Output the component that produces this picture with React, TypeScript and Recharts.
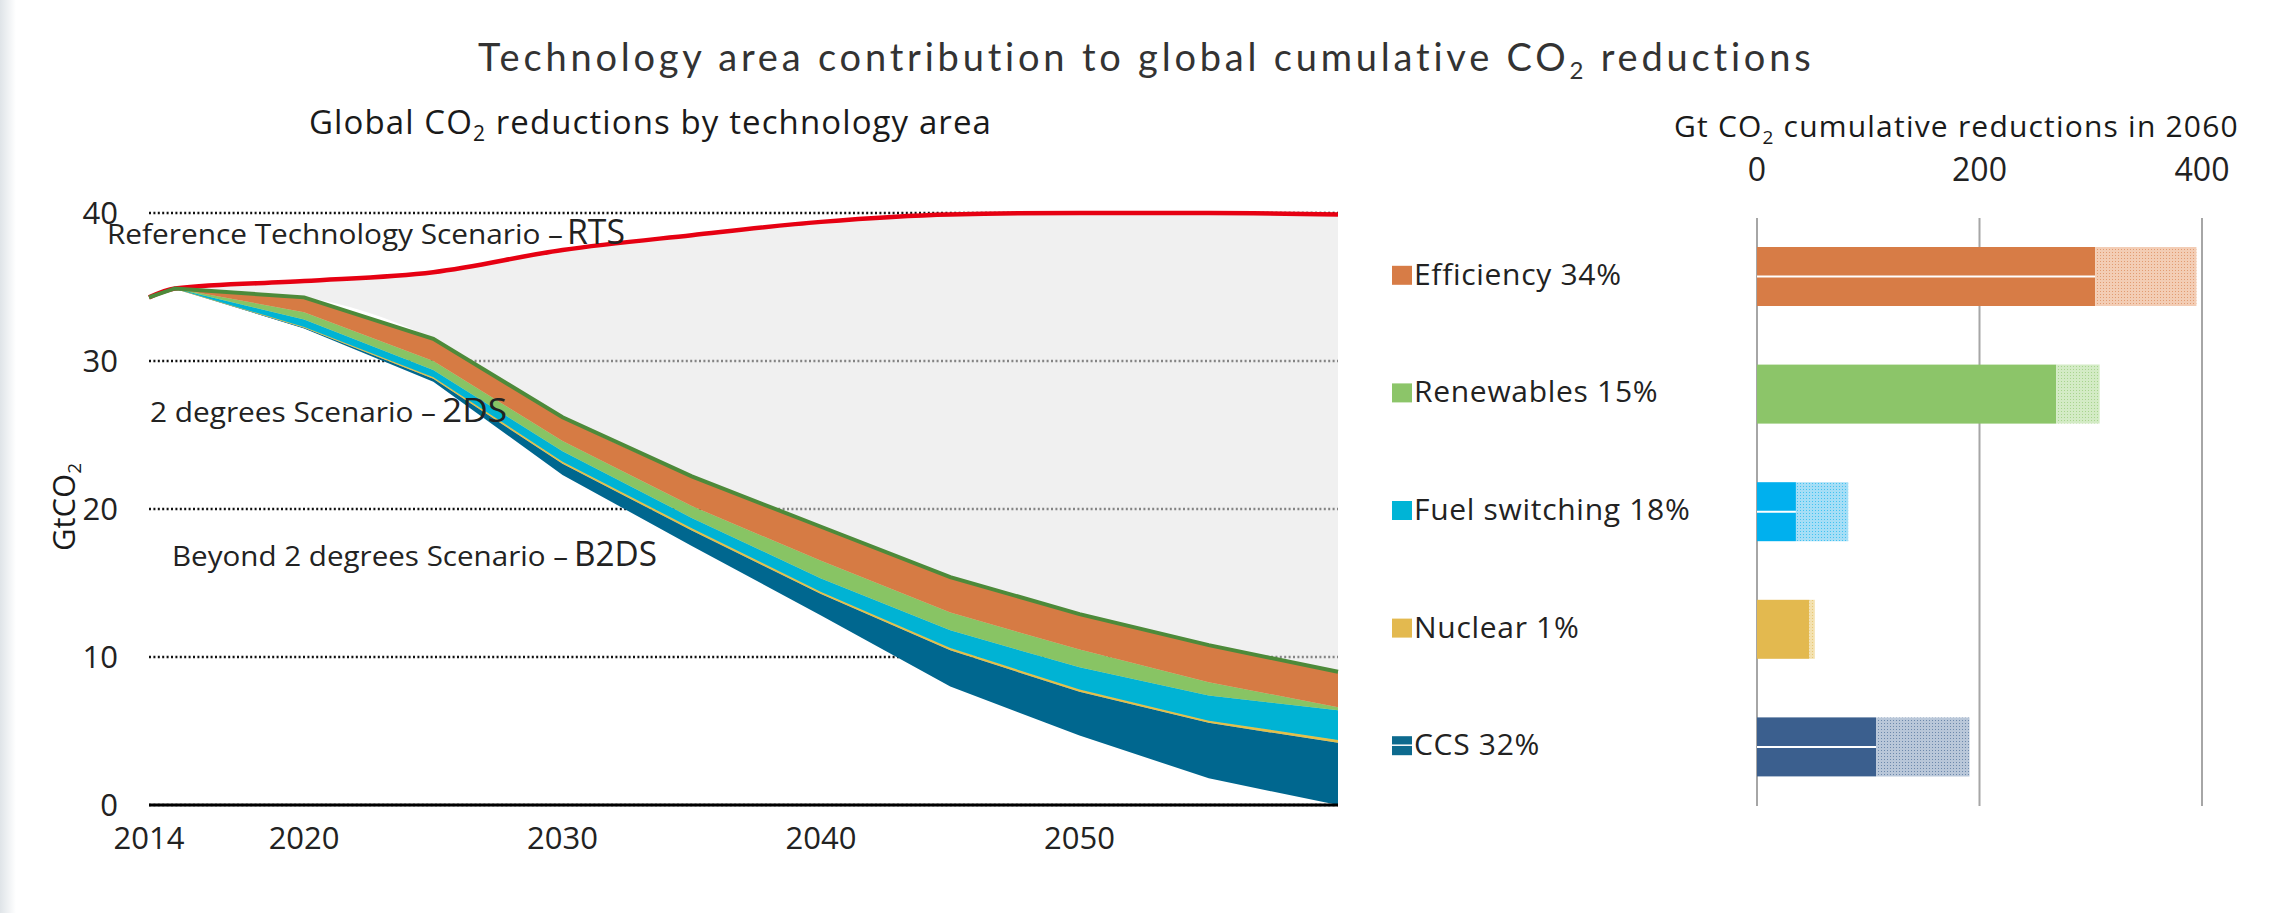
import React from 'react';
import {
  ComposedChart, Area, Line, XAxis, YAxis, CartesianGrid,
  BarChart, Bar, Cell,
} from 'recharts';

// left panel: emission pathways (GtCO2) and technology wedges between 2DS and B2DS
const YEARS = [2014, 2015, 2020, 2025, 2030, 2035, 2040, 2045, 2050, 2055, 2060];
const RTS = [34.3, 34.9, 35.4, 36.0, 37.5, 38.5, 39.4, 39.9, 40.0, 40.0, 39.9];
const TOP_2DS = [34.3, 34.9, 34.3, 31.5, 26.2, 22.2, 18.8, 15.4, 12.9, 10.8, 9.0];
const EFF_FLOOR = [34.3, 34.9, 33.3, 30.0, 24.6, 20.2, 16.5, 13.0, 10.5, 8.3, 6.6];
const REN_FLOOR = [34.3, 34.9, 32.8, 29.4, 23.9, 19.4, 15.3, 11.8, 9.3, 7.4, 6.4];
const FUEL_FLOOR = [34.3, 34.9, 32.3, 28.9, 23.2, 18.7, 14.4, 10.6, 7.8, 5.7, 4.4];
const NUC_FLOOR = [34.3, 34.9, 32.25, 28.8, 23.05, 18.55, 14.25, 10.45, 7.65, 5.55, 4.2];
const B2DS = [34.3, 34.9, 32.2, 28.6, 22.3, 17.5, 12.8, 8.0, 4.7, 1.8, 0];
const Y_TICKS = [0, 10, 20, 30, 40];
const X_TICKS = [2014, 2020, 2030, 2040, 2050];

// right panel: cumulative reductions in 2060 (Gt CO2)
const TECH = ['Efficiency', 'Renewables', 'Fuel switching', 'Nuclear', 'CCS'];
const SHARE = [34, 15, 18, 1, 32];
const CUM_2DS = [304, 269, 35, 47, 107];
const CUM_B2DS = [395, 308, 82, 52, 191];
const BAR_TICKS = [0, 200, 400];

const BAR_COLORS = ['#d77c46', '#8cc569', '#00b0ee', '#e3b94f', '#3b5f8e'];
const LIGHT_COLORS = ['#f3cdb5', '#d3ebc5', '#a6def6', '#f3e1b0', '#b9c7d9'];
const KEY_COLORS = ['#d77c46', '#8cc569', '#00b4d6', '#e3b94f', '#0d6a8e'];
const SPLIT = ['Efficiency', 'Fuel switching', 'CCS'];

const FONT = '"Open Sans", "Liberation Sans", sans-serif';

const r2 = (v: number) => Math.round(v * 100) / 100;

const areaData = YEARS.map((year, i) => ({
  year,
  base: B2DS[i],
  ccs: r2(NUC_FLOOR[i] - B2DS[i]),
  nuc: r2(FUEL_FLOOR[i] - NUC_FLOOR[i]),
  fuel: r2(REN_FLOOR[i] - FUEL_FLOOR[i]),
  ren: r2(EFF_FLOOR[i] - REN_FLOOR[i]),
  eff: r2(TOP_2DS[i] - EFF_FLOOR[i]),
  gap: r2(RTS[i] - TOP_2DS[i]),
  top: TOP_2DS[i],
  rts: RTS[i],
}));

const barData = TECH.map((name, i) => ({
  name,
  solid: CUM_2DS[i],
  extra: CUM_B2DS[i] - CUM_2DS[i],
}));

const SolidBar = (props: any) => {
  const { x, y, width, height, fill, payload } = props;
  const split = payload && SPLIT.includes(payload.name);
  return (
    <g>
      <rect x={x} y={y} width={width} height={height} fill={fill} />
      {split && (
        <line x1={x} x2={x + width} y1={y + height / 2} y2={y + height / 2} stroke="#fff" strokeWidth={2} />
      )}
    </g>
  );
};

const CategoryTick = (props: any) => {
  const { y, payload } = props;
  const i = TECH.indexOf(payload.value);
  return (
    <g>
      <rect x={12} y={y - 11} width={20} height={19} fill={KEY_COLORS[i]} />
      {TECH[i] === 'CCS' && <line x1={12} x2={32} y1={y - 2} y2={y - 2} stroke="#fff" strokeWidth={1.5} />}
      <text x={34} y={y + 8} fontSize={30} letterSpacing={0.7} fill="#222" fontFamily={FONT}>
        {`${TECH[i]} ${SHARE[i]}%`}
      </text>
    </g>
  );
};

const tickStyle = { fontSize: 31, fill: '#222', fontFamily: FONT };
const barTickStyle = { fontSize: 32, fill: '#222', fontFamily: FONT };

export default function App() {
  return (
    <div style={{ position: 'relative', width: 2273, height: 913, background: '#fff', overflow: 'hidden', fontFamily: FONT }}>
      <style>{'body{margin:0}'}</style>
      <div style={{ position: 'absolute', left: 0, top: 0, width: 16, height: 913, background: 'linear-gradient(to right, #dfe4e8, #ffffff)' }} />

      {/* left: pathways */}
      <div style={{ position: 'absolute', left: 0, top: 150 }}>
        <ComposedChart width={1360} height={720} data={areaData} margin={{ top: 63, right: 22, bottom: 0, left: 0 }}>
          <CartesianGrid horizontal vertical={false} stroke="#111" strokeWidth={2.4} strokeDasharray="2 2.4" />
          <XAxis
            type="number" dataKey="year" domain={[2014, 2060]} ticks={X_TICKS}
            axisLine={{ stroke: '#000', strokeWidth: 3 }} tickLine={false}
            tick={tickStyle} tickMargin={16} height={65} interval={0}
          />
          <YAxis
            domain={[0, 40]} ticks={Y_TICKS} axisLine={false} tickLine={false}
            tick={tickStyle} tickMargin={25} width={149} interval={0}
          />
          <Area type="linear" dataKey="base" stackId="s" fill="transparent" stroke="none" isAnimationActive={false} />
          <Area type="linear" dataKey="ccs" stackId="s" fill="#00678f" fillOpacity={1} stroke="#00678f" strokeWidth={0.5} isAnimationActive={false} />
          <Area type="linear" dataKey="nuc" stackId="s" fill="#e3c04a" fillOpacity={1} stroke="#e3c04a" strokeWidth={1} isAnimationActive={false} />
          <Area type="linear" dataKey="fuel" stackId="s" fill="#00b3d4" fillOpacity={1} stroke="#00b3d4" strokeWidth={0.5} isAnimationActive={false} />
          <Area type="linear" dataKey="ren" stackId="s" fill="#88c464" fillOpacity={1} stroke="#88c464" strokeWidth={0.5} isAnimationActive={false} />
          <Area type="linear" dataKey="eff" stackId="s" fill="#d67b44" fillOpacity={1} stroke="#d67b44" strokeWidth={0.5} isAnimationActive={false} />
          <Area type="monotone" dataKey="gap" stackId="s" fill="#e4e4e4" fillOpacity={0.55} stroke="none" isAnimationActive={false} />
          <Line type="monotone" dataKey="rts" stroke="#e60012" strokeWidth={4.5} dot={false} isAnimationActive={false} />
          <Line type="linear" dataKey="top" stroke="#4d8a3a" strokeWidth={4} dot={false} isAnimationActive={false} />
        </ComposedChart>
      </div>

      {/* right: cumulative reductions */}
      <div style={{ position: 'absolute', left: 1380, top: 120 }}>
        <BarChart width={870} height={700} data={barData} layout="vertical" margin={{ top: 58, right: 48, bottom: 14, left: 0 }}>
          <defs>
            {TECH.map((t, i) => (
              <pattern key={t} id={`pat-${i}`} width={3} height={3} patternUnits="userSpaceOnUse">
                <rect width={3} height={3} fill={LIGHT_COLORS[i]} />
                <rect width={1} height={1} fill={BAR_COLORS[i]} fillOpacity={0.6} />
              </pattern>
            ))}
          </defs>
          <CartesianGrid horizontal={false} vertical stroke="#a6a6a6" strokeWidth={2} />
          <XAxis
            type="number" orientation="top" domain={[0, 400]} ticks={BAR_TICKS}
            axisLine={false} tickLine={false} tick={barTickStyle} tickMargin={31} height={40} interval={0}
          />
          <YAxis
            type="category" dataKey="name" width={377} axisLine={false} tickLine={false}
            tick={<CategoryTick />} interval={0}
          />
          <Bar dataKey="solid" stackId="b" barSize={59} shape={SolidBar} isAnimationActive={false}>
            {barData.map((d, i) => <Cell key={d.name} fill={BAR_COLORS[i]} />)}
          </Bar>
          <Bar dataKey="extra" stackId="b" barSize={59} isAnimationActive={false}>
            {barData.map((d, i) => <Cell key={d.name} fill={`url(#pat-${i})`} />)}
          </Bar>
        </BarChart>
      </div>

      {/* titles and scenario notes */}
      <svg width={2273} height={913} style={{ position: 'absolute', left: 0, top: 0, pointerEvents: 'none' }}>
        <text x={478} y={71} fontSize={38} fontFamily='Lato, "Open Sans", sans-serif' letterSpacing={3.8} fill="#333">
          Technology area contribution to global cumulative CO<tspan dy={8} fontSize={24}>2</tspan>
          <tspan dy={-8}> reductions</tspan>
        </text>
        <text x={309} y={134} fontSize={33} letterSpacing={1.1} fontFamily={FONT} fill="#1a1a1a">
          Global CO<tspan dy={7} fontSize={21}>2</tspan>
          <tspan dy={-7}> reductions by technology area</tspan>
        </text>
        <text x={1674} y={137} fontSize={30} letterSpacing={1.2} fontFamily={FONT} fill="#1a1a1a">
          Gt CO<tspan dy={7} fontSize={19}>2</tspan>
          <tspan dy={-7}> cumulative reductions in 2060</tspan>
        </text>
        <text transform="translate(64,507) rotate(-90)" textAnchor="middle" fontSize={31} fontFamily={FONT} fill="#1a1a1a" dy={11}>
          GtCO<tspan dy={6} fontSize={19}>2</tspan>
        </text>
        <text x={107} y={244} fontSize={28} fontFamily={FONT} fill="#222" textLength={456} lengthAdjust="spacingAndGlyphs">
          Reference Technology Scenario –
        </text>
        <text x={567} y={244} fontSize={35} fontFamily={FONT} fill="#222" textLength={58} lengthAdjust="spacingAndGlyphs">RTS</text>
        <text x={150} y={422} fontSize={28} fontFamily={FONT} fill="#222" textLength={286} lengthAdjust="spacingAndGlyphs">
          2 degrees Scenario –
        </text>
        <text x={442} y={422} fontSize={33} fontFamily={FONT} fill="#222" textLength={65} lengthAdjust="spacingAndGlyphs">2DS</text>
        <text x={172} y={566} fontSize={28} fontFamily={FONT} fill="#222" textLength={396} lengthAdjust="spacingAndGlyphs">
          Beyond 2 degrees Scenario –
        </text>
        <text x={574} y={566} fontSize={35} fontFamily={FONT} fill="#222" textLength={83} lengthAdjust="spacingAndGlyphs">B2DS</text>
      </svg>
    </div>
  );
}
